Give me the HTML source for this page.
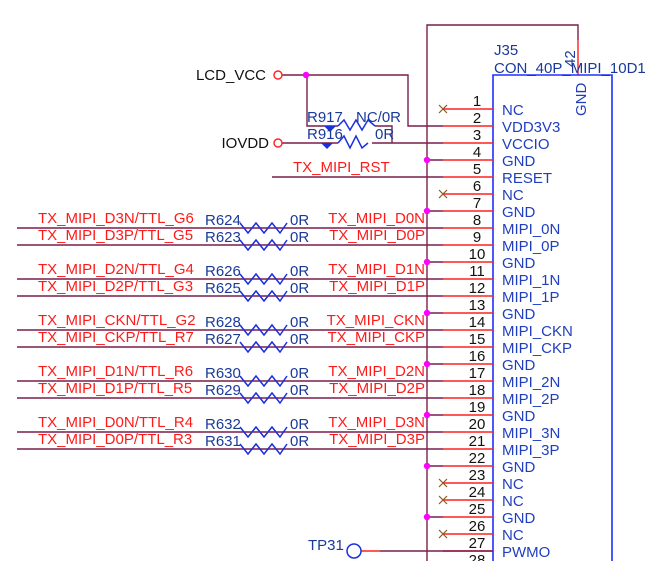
<!DOCTYPE html>
<html><head><meta charset="utf-8"><style>
html,body{margin:0;padding:0;background:#fff}
svg{display:block}
text{font-family:"Liberation Sans",sans-serif;font-size:15px}
.r{fill:#ff1a1a}.b{fill:#1a3a9a}.k{fill:#111}.bl{fill:#1f3fbf}
</style></head><body>
<svg width="658" height="561" viewBox="0 0 658 561" xmlns="http://www.w3.org/2000/svg">
<g stroke-width="1.4" fill="none">
<path d="M427 561 V25 H578 V40" stroke="#7a1f4a"/>
<path d="M578 40 V75" stroke="#ff2020"/>
<path d="M493 561 V75 H612 V561" stroke="#2030ff" stroke-width="1.6"/>
<g stroke="#ff2020">
<path d="M443 109H493M443 126H493M443 143H493M443 160H493M443 177H493M443 194H493M443 211H493M443 228H493M443 245H493M443 262H493M443 279H493M443 296H493M443 313H493M443 330H493M443 347H493M443 364H493M443 381H493M443 398H493M443 415H493M443 432H493M443 449H493M443 466H493M443 483H493M443 500H493M443 517H493M443 534H493M443 551H493"/>
<path d="M361 551H380"/>
</g>
<g stroke="#7a1f4a">
<path d="M282 75H408V126H443"/>
<path d="M307 75V126H338M375 126H392V143"/>
<path d="M282 143H338M372 143H443"/>
<path d="M272 177H443"/>
<path d="M427 160H443M427 211H443M427 262H443M427 313H443M427 364H443M427 415H443M427 466H443M427 517H443"/>
<path d="M17 228H443M17 245H443M17 279H443M17 296H443M17 330H443M17 347H443M17 381H443M17 398H443M17 432H443M17 449H443"/>
<path d="M380 551H493"/>
</g>
<g stroke="#1a30e0" stroke-width="1.5">
<path d="M338 126l6 -6l6 10l6 -10l6 10l6 -10l7 6"/>
<path d="M338 143l6 -7l6 12l6 -12l6 12l6 -5"/>
<path d="M240 223l8 10l8 -10l8 10l8 -10l8 10l7 -10"/>
<path d="M240 240l8 10l8 -10l8 10l8 -10l8 10l7 -10"/>
<path d="M240 274l8 10l8 -10l8 10l8 -10l8 10l7 -10"/>
<path d="M240 291l8 10l8 -10l8 10l8 -10l8 10l7 -10"/>
<path d="M240 325l8 10l8 -10l8 10l8 -10l8 10l7 -10"/>
<path d="M240 342l8 10l8 -10l8 10l8 -10l8 10l7 -10"/>
<path d="M240 376l8 10l8 -10l8 10l8 -10l8 10l7 -10"/>
<path d="M240 393l8 10l8 -10l8 10l8 -10l8 10l7 -10"/>
<path d="M240 427l8 10l8 -10l8 10l8 -10l8 10l7 -10"/>
<path d="M240 444l8 10l8 -10l8 10l8 -10l8 10l7 -10"/>
</g>
<g stroke="#8a5a20" stroke-width="1.2">
<path d="M439 105l8 8M447 105l-8 8M439 190l8 8M447 190l-8 8M439 479l8 8M447 479l-8 8M439 496l8 8M447 496l-8 8M439 530l8 8M447 530l-8 8"/>
</g>
<circle cx="278" cy="75" r="4" stroke="#ff2020"/>
<circle cx="278" cy="143" r="4" stroke="#ff2020"/>
<circle cx="354" cy="551" r="7" stroke="#1a30e0" stroke-width="1.5"/>
</g>
<g fill="#1a30e0"><path d="M324 126h12l-6 6z"/><path d="M321 143h12l-6 6z"/></g>
<g fill="#ff00ff">
<circle cx="306" cy="75" r="3.2"/>
<circle cx="427" cy="160" r="3.2"/><circle cx="427" cy="211" r="3.2"/><circle cx="427" cy="262" r="3.2"/><circle cx="427" cy="313" r="3.2"/><circle cx="427" cy="364" r="3.2"/><circle cx="427" cy="415" r="3.2"/><circle cx="427" cy="466" r="3.2"/><circle cx="427" cy="517" r="3.2"/>
</g>
<text class="k" x="266" y="80" text-anchor="end">LCD_VCC</text>
<text class="k" x="269" y="148" text-anchor="end">IOVDD</text>
<text class="b" x="307" y="122">R917</text><text class="b" x="356" y="122">NC/0R</text>
<text class="b" x="307" y="139">R916</text><text class="b" x="375" y="139">0R</text>
<text class="r" x="293" y="172">TX_MIPI_RST</text>
<text class="b" x="494" y="55">J35</text>
<text class="b" x="494" y="73">CON_40P_MIPI_10D1</text>
<text class="b" transform="translate(575,67) rotate(-90)">42</text>
<text class="bl" transform="translate(586,116) rotate(-90)">GND</text>
<text class="b" x="308" y="550">TP31</text>
<g class="k" text-anchor="middle">
<text x="477" y="106">1</text><text x="477" y="123">2</text><text x="477" y="140">3</text><text x="477" y="157">4</text><text x="477" y="174">5</text><text x="477" y="191">6</text><text x="477" y="208">7</text><text x="477" y="225">8</text><text x="477" y="242">9</text><text x="477" y="259">10</text><text x="477" y="276">11</text><text x="477" y="293">12</text><text x="477" y="310">13</text><text x="477" y="327">14</text><text x="477" y="344">15</text><text x="477" y="361">16</text><text x="477" y="378">17</text><text x="477" y="395">18</text><text x="477" y="412">19</text><text x="477" y="429">20</text><text x="477" y="446">21</text><text x="477" y="463">22</text><text x="477" y="480">23</text><text x="477" y="497">24</text><text x="477" y="514">25</text><text x="477" y="531">26</text><text x="477" y="548">27</text><text x="477" y="565">28</text>
</g>
<g class="bl">
<text x="502" y="115">NC</text><text x="502" y="132">VDD3V3</text><text x="502" y="149">VCCIO</text><text x="502" y="166">GND</text><text x="502" y="183">RESET</text><text x="502" y="200">NC</text><text x="502" y="217">GND</text><text x="502" y="234">MIPI_0N</text><text x="502" y="251">MIPI_0P</text><text x="502" y="268">GND</text><text x="502" y="285">MIPI_1N</text><text x="502" y="302">MIPI_1P</text><text x="502" y="319">GND</text><text x="502" y="336">MIPI_CKN</text><text x="502" y="353">MIPI_CKP</text><text x="502" y="370">GND</text><text x="502" y="387">MIPI_2N</text><text x="502" y="404">MIPI_2P</text><text x="502" y="421">GND</text><text x="502" y="438">MIPI_3N</text><text x="502" y="455">MIPI_3P</text><text x="502" y="472">GND</text><text x="502" y="489">NC</text><text x="502" y="506">NC</text><text x="502" y="523">GND</text><text x="502" y="540">NC</text><text x="502" y="557">PWMO</text>
</g>
<g class="r">
<text x="38" y="223">TX_MIPI_D3N/TTL_G6</text><text x="38" y="240">TX_MIPI_D3P/TTL_G5</text>
<text x="38" y="274">TX_MIPI_D2N/TTL_G4</text><text x="38" y="291">TX_MIPI_D2P/TTL_G3</text>
<text x="38" y="325">TX_MIPI_CKN/TTL_G2</text><text x="38" y="342">TX_MIPI_CKP/TTL_R7</text>
<text x="38" y="376">TX_MIPI_D1N/TTL_R6</text><text x="38" y="393">TX_MIPI_D1P/TTL_R5</text>
<text x="38" y="427">TX_MIPI_D0N/TTL_R4</text><text x="38" y="444">TX_MIPI_D0P/TTL_R3</text>
</g>
<g class="r" text-anchor="end">
<text x="425" y="223">TX_MIPI_D0N</text><text x="425" y="240">TX_MIPI_D0P</text>
<text x="425" y="274">TX_MIPI_D1N</text><text x="425" y="291">TX_MIPI_D1P</text>
<text x="425" y="325">TX_MIPI_CKN</text><text x="425" y="342">TX_MIPI_CKP</text>
<text x="425" y="376">TX_MIPI_D2N</text><text x="425" y="393">TX_MIPI_D2P</text>
<text x="425" y="427">TX_MIPI_D3N</text><text x="425" y="444">TX_MIPI_D3P</text>
</g>
<g class="b">
<text x="205" y="225">R624</text><text x="290" y="225">0R</text><text x="205" y="242">R623</text><text x="290" y="242">0R</text>
<text x="205" y="276">R626</text><text x="290" y="276">0R</text><text x="205" y="293">R625</text><text x="290" y="293">0R</text>
<text x="205" y="327">R628</text><text x="290" y="327">0R</text><text x="205" y="344">R627</text><text x="290" y="344">0R</text>
<text x="205" y="378">R630</text><text x="290" y="378">0R</text><text x="205" y="395">R629</text><text x="290" y="395">0R</text>
<text x="205" y="429">R632</text><text x="290" y="429">0R</text><text x="205" y="446">R631</text><text x="290" y="446">0R</text>
</g>
</svg>
</body></html>
